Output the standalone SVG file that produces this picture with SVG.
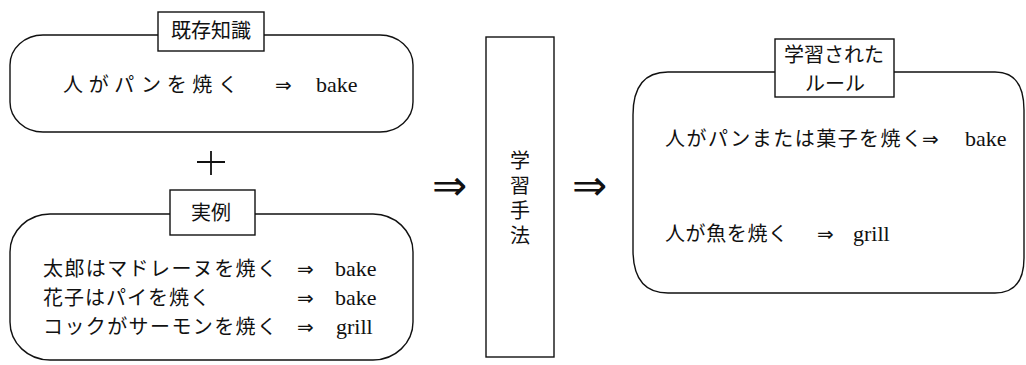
<svg xmlns="http://www.w3.org/2000/svg" width="1026" height="365" viewBox="0 0 1026 365">
<style>
.frame{fill:none;stroke:#111;stroke-width:1.4}
.lbl{fill:#fff;stroke:#111;stroke-width:1.4}
.jp{font-family:"Noto Sans CJK JP","Noto Sans CJK SC",sans-serif;font-size:20px;fill:#111}
.lat{font-family:"Liberation Serif",serif;font-size:22px;fill:#111}
.arr{font-family:"DejaVu Sans",sans-serif;font-size:20px;fill:#111}
.big{font-family:"DejaVu Sans",sans-serif;font-size:42px;fill:#111}
</style>
<rect width="1026" height="365" fill="#fff"/>
<g id="connectors">
<text class="big" x="432" y="200">⇒</text>
<text class="big" x="572" y="200">⇒</text>
<path d="M197 162 H225 M211 151 V175" stroke="#111" stroke-width="1.8" fill="none"/>
</g>
<g id="node-kizon">
<rect class="frame" x="10" y="35" width="403" height="97" rx="33" ry="30"/>
<rect class="lbl" x="158" y="12" width="106" height="39"/>
<text class="jp" x="211" y="38" text-anchor="middle">既存知識</text>
<text class="jp" x="63" y="92" textLength="175" lengthAdjust="spacing">人がパンを焼く</text>
<text class="arr" x="275" y="92">⇒</text>
<text class="lat" x="316" y="92">bake</text>
</g>
<g id="node-jitsurei">
<rect class="frame" x="10" y="214" width="403" height="146" rx="40" ry="38"/>
<rect class="lbl" x="170" y="190" width="85" height="45"/>
<text class="jp" x="211" y="220" text-anchor="middle">実例</text>
<text class="jp" x="43" y="276" textLength="234" lengthAdjust="spacing">太郎はマドレーヌを焼く</text>
<text class="arr" x="297" y="276">⇒</text>
<text class="lat" x="335" y="276">bake</text>
<text class="jp" x="43" y="305" textLength="167" lengthAdjust="spacing">花子はパイを焼く</text>
<text class="arr" x="297" y="305">⇒</text>
<text class="lat" x="335" y="305">bake</text>
<text class="jp" x="43" y="334" textLength="234" lengthAdjust="spacing">コックがサーモンを焼く</text>
<text class="arr" x="297" y="334">⇒</text>
<text class="lat" x="336" y="334">grill</text>
</g>
<g id="node-method">
<rect class="frame" x="486" y="37" width="68" height="320"/>
<text class="jp" x="520" y="150" writing-mode="vertical-rl" letter-spacing="5">学習手法</text>
</g>
<g id="node-rules">
<path class="frame" d="M668 72 H995 Q1024 72 1024 110 V258 Q1024 293 995 293 H668 Q633 293 633 250 V115 Q633 72 668 72 Z"/>
<rect class="lbl" x="775" y="39" width="119" height="58"/>
<text class="jp" x="834" y="62" text-anchor="middle">学習された</text>
<text class="jp" x="835" y="91" text-anchor="middle">ルール</text>
<text class="jp" x="665" y="146" textLength="257" lengthAdjust="spacing">人がパンまたは菓子を焼く</text>
<text class="arr" x="922" y="146">⇒</text>
<text class="lat" x="965" y="146">bake</text>
<text class="jp" x="665" y="241" textLength="123" lengthAdjust="spacing">人が魚を焼く</text>
<text class="arr" x="817" y="241">⇒</text>
<text class="lat" x="853" y="241">grill</text>
</g>
</svg>
